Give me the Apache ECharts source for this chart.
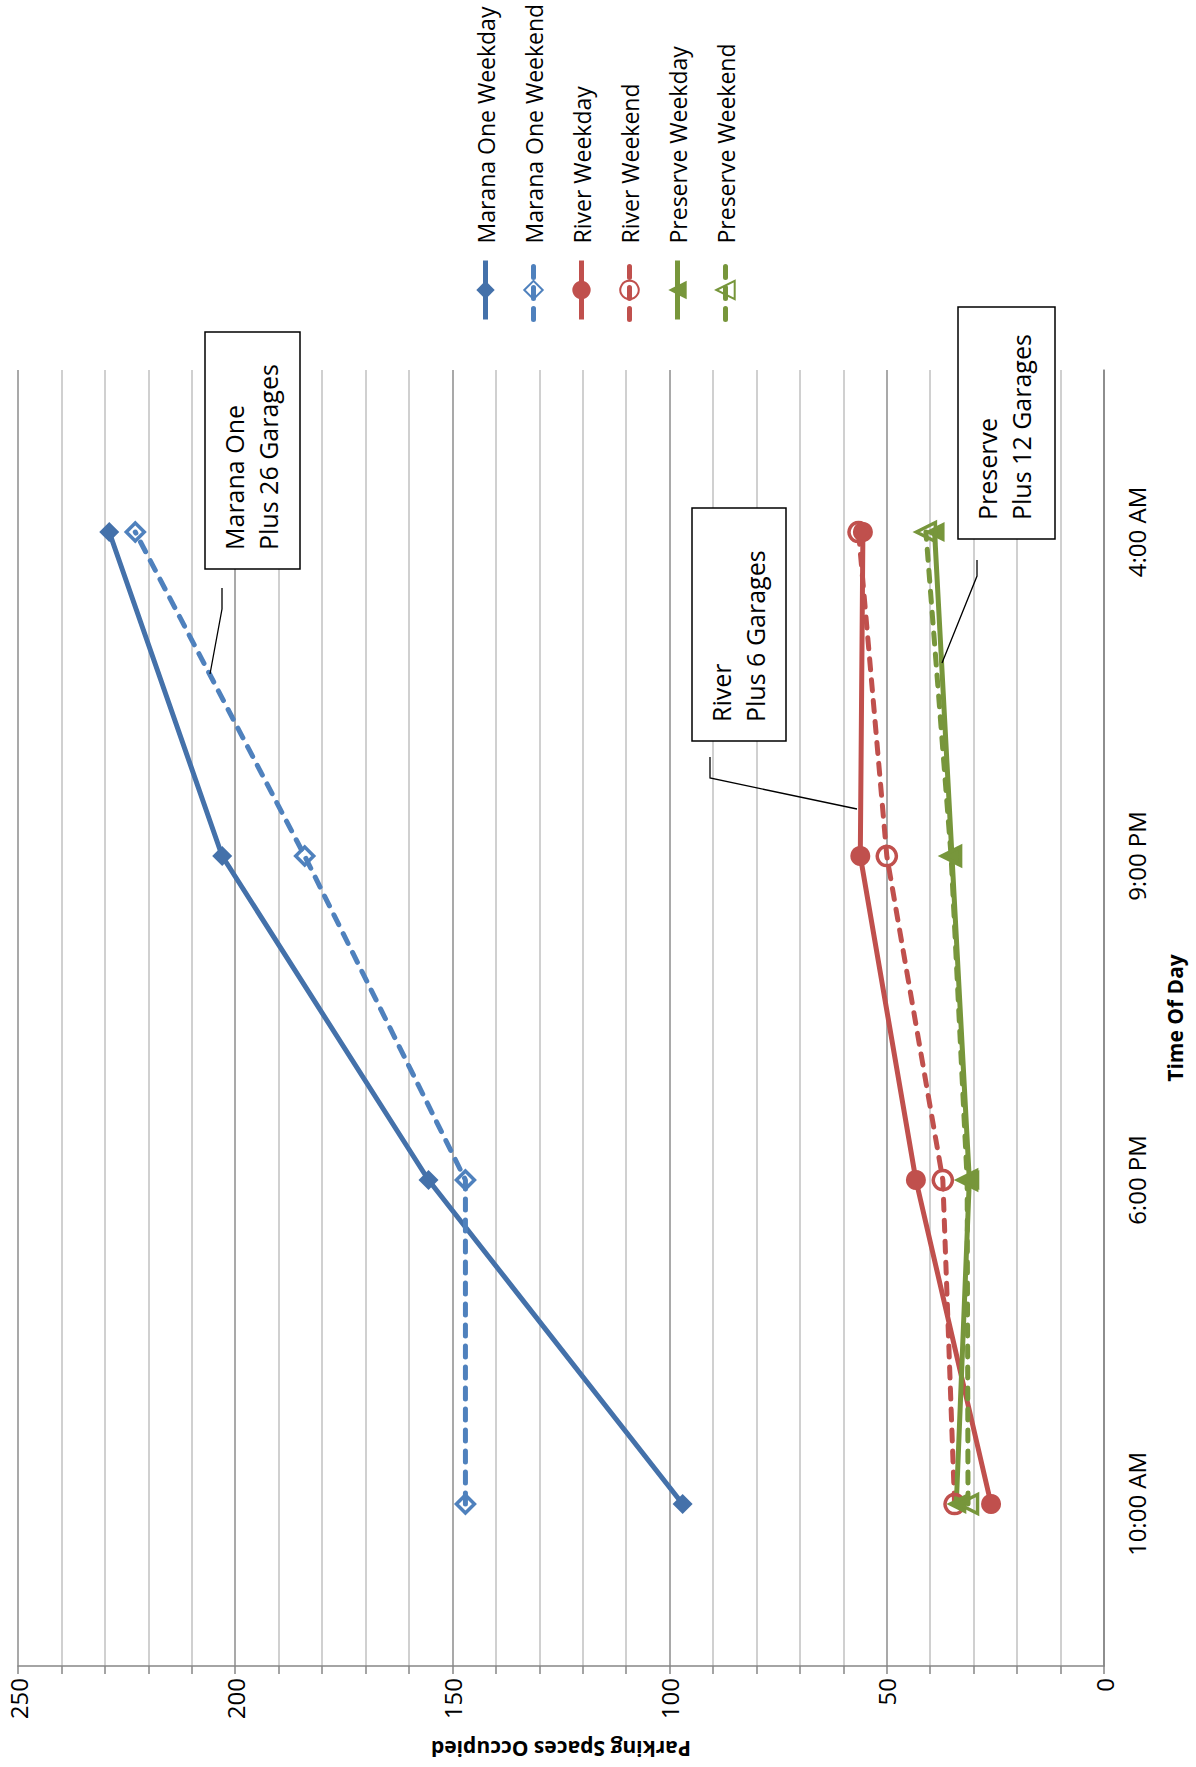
<!DOCTYPE html>
<html>
<head>
<meta charset="utf-8">
<script src="https://cdn.jsdelivr.net/npm/echarts@6/dist/echarts.min.js"></script>
<style>
  html, body { margin: 0; padding: 0; background: #fff; overflow: hidden; }
  #page { position: absolute; left: 0; top: 0; width: 1196px; height: 1767px; overflow: hidden; background: #fff; }
  /* the chart is laid out landscape and turned a quarter turn counter-clockwise */
  #chart { position: absolute; left: 0; top: 0; width: 1767px; height: 1196px;
           transform-origin: 0 0; transform: translate(0, 1767px) rotate(-90deg); }
</style>
</head>
<body>
<div id="page"><div id="chart"></div></div>
<script>
// Time-of-day survey slots
const timeLabels = ['10:00 AM', '6:00 PM', '9:00 PM', '4:00 AM'];

// Parking spaces occupied per area and day type
const maranaWeekday   = [97, 155.5, 203, 229];
const maranaWeekend   = [147, 147, 184, 223];
const riverWeekday    = [26, 43.3, 56.1, 55.5];
const riverWeekend    = [34.4, 37.1, 50, 56.5];
const preserveWeekday = [34, 31, 35, 39];
const preserveWeekend = [31.3, 31.5, 35.2, 41];

const seriesNames = ['Marana One Weekday', 'Marana One Weekend', 'River Weekday',
                     'River Weekend', 'Preserve Weekday', 'Preserve Weekend'];

// Value axis range and tick labels
const valueMin = 0, valueMax = 250, valueStep = 10;
const valueLabels = [0, 50, 100, 150, 200, 250];

// Callout texts
const callouts = [
  ['Marana One', 'Plus 26 Garages'],
  ['River', 'Plus 6 Garages'],
  ['Preserve', 'Plus 12 Garages']
];

const FONT = '"Open Sans", "Liberation Sans", sans-serif';
const BLUE_DARK = '#4471AA', BLUE = '#4F81BD', RED = '#C0504D', GREEN = '#77963B';

function lineSeries(name, data, color, dashed, symbol, filled, size) {
  return {
    name: name, type: 'line', data: data,
    symbol: symbol, symbolSize: size, showSymbol: true,
    lineStyle: { color: color, width: 5, type: dashed ? [11, 10] : 'solid', cap: dashed ? 'round' : 'butt' },
    itemStyle: { color: filled ? color : 'rgba(255,255,255,0)', borderColor: color, borderWidth: filled ? 0 : 3.5 },
    emphasis: { disabled: true },
    silent: true
  };
}

const chart = echarts.init(document.getElementById('chart'), null, { renderer: 'svg' });

const boxes = [
  { x: 1198, y: 205, w: 237, h: 95, leader: [[1179, 222], [1158, 222], [1093, 210]] },
  { x: 1026, y: 692, w: 233, h: 94, leader: [[1010, 710], [989, 710], [958, 857]] },
  { x: 1228, y: 958, w: 232, h: 97, leader: [[1207, 977], [1191, 977], [1104, 942]] }
];

const graphics = [];
boxes.forEach(function (b, i) {
  graphics.push({
    type: 'rect', z: 100,
    shape: { x: b.x, y: b.y, width: b.w, height: b.h },
    style: { fill: '#fff', stroke: '#000', lineWidth: 1.5 }
  });
  graphics.push({
    type: 'text', z: 101, x: b.x + 19, y: b.y + 12,
    style: { text: callouts[i].join('\n'), font: '25px ' + FONT, fill: '#000', lineHeight: 34, verticalAlign: 'top' }
  });
  graphics.push({
    type: 'polyline', z: 100,
    shape: { points: b.leader },
    style: { stroke: '#000', lineWidth: 1.3, fill: null }
  });
});

chart.setOption({
  animation: false,
  backgroundColor: '#fff',
  textStyle: { fontFamily: FONT },
  grid: { left: 100, right: 370, top: 18, bottom: 92, containLabel: false },
  legend: {
    orient: 'vertical', left: 1440, top: 469,
    itemWidth: 59, itemHeight: 23, itemGap: 25,
    lineStyle: { width: 'inherit' },
    textStyle: { fontSize: 23, color: '#000', fontFamily: FONT, padding: [0, 0, 0, 12] },
    data: seriesNames
  },
  xAxis: {
    type: 'category', data: timeLabels, boundaryGap: true,
    axisLine: { lineStyle: { color: '#868686', width: 1.5 } },
    axisTick: { show: false },
    axisLabel: { fontSize: 24, color: '#000', margin: 20, fontFamily: FONT },
    name: 'Time Of Day', nameLocation: 'middle', nameGap: 60,
    nameTextStyle: { fontSize: 21, fontWeight: 'bold', color: '#000', fontFamily: FONT },
    splitLine: { show: false }
  },
  yAxis: {
    type: 'value', min: valueMin, max: valueMax, interval: valueStep,
    axisLine: { show: true, lineStyle: { color: '#868686', width: 1.5 } },
    axisTick: { show: true, length: 8, lineStyle: { color: '#868686', width: 1.5 } },
    axisLabel: {
      fontSize: 24, color: '#000', margin: 12, fontFamily: FONT,
      formatter: function (v) { return valueLabels.indexOf(v) >= 0 ? String(v) : ''; }
    },
    splitLine: { show: true, lineStyle: { color: ['#8c8c8c', '#c0c0c0', '#c0c0c0', '#c0c0c0', '#c0c0c0'], width: 1.5 } },
    name: 'Parking Spaces Occupied', nameLocation: 'middle', nameGap: 72,
    nameTextStyle: { fontSize: 21, fontWeight: 'bold', color: '#000', fontFamily: FONT }
  },
  series: [
    lineSeries(seriesNames[0], maranaWeekday, BLUE_DARK, false, 'diamond', true, 20),
    lineSeries(seriesNames[1], maranaWeekend, BLUE, true, 'diamond', false, 18),
    lineSeries(seriesNames[2], riverWeekday, RED, false, 'circle', true, 20),
    lineSeries(seriesNames[3], riverWeekend, RED, true, 'circle', false, 19),
    lineSeries(seriesNames[4], preserveWeekday, GREEN, false, 'triangle', true, 20),
    lineSeries(seriesNames[5], preserveWeekend, GREEN, true, 'triangle', false, 19)
  ],
  graphic: graphics
});
</script>
</body>
</html>
